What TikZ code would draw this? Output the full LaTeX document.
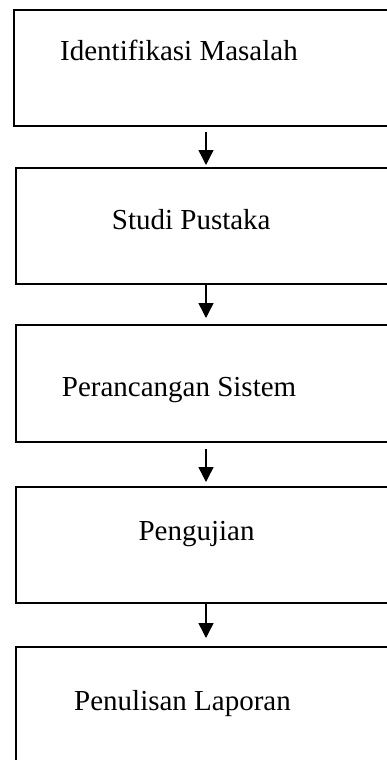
\documentclass[tikz,border=0pt]{standalone}
\usepackage{fontspec}
\setmainfont{Liberation Serif}
\usetikzlibrary{arrows.meta,calc}
\begin{document}
\begin{tikzpicture}[x=1pt,y=-1pt,
  box/.style={draw=black,line width=1.3pt,rectangle,inner sep=0pt,outer sep=0pt,minimum width=390pt,anchor=north west},
  lbl/.style={anchor=base west,inner sep=0pt,font=\fontsize{29}{34}\selectfont},
  arr/.style={draw=black,line width=1.4pt,-{Triangle[width=15pt,length=15pt]}}]
\useasboundingbox (0,0) rectangle (387,760);
\clip (0,0) rectangle (387,760);
\fill[white] (0,0) rectangle (387,760);
\coordinate (ax) at (206,0);
\node[box,minimum height=116pt] (b1) at (14,10) {};
\node[box,minimum height=116pt] (b2) at (16,168) {};
\node[box,minimum height=117pt] (b3) at (16,325) {};
\node[box,minimum height=116pt] (b4) at (16,487) {};
\node[box,minimum height=140pt] (b5) at (16,647) {};
\node[lbl] (t1) at (60,61) {Identifikasi Masalah};
\node[lbl] (t2) at (111.7,229.5) {Studi Pustaka};
\node[lbl] (t3) at (61.7,396) {Perancangan Sistem};
\node[lbl] (t4) at (138.3,540) {Pengujian};
\node[lbl] (t5) at (74,710) {Penulisan Laporan};
\draw[arr] ($(b1.south west -| ax)+(0,6)$) -- ($(b2.north west -| ax)+(0,-3)$);
\draw[arr] (b2.south west -| ax) -- ($(b3.north west -| ax)+(0,-7)$);
\draw[arr] ($(b3.south west -| ax)+(0,7)$) -- ($(b4.north west -| ax)+(0,-5)$);
\draw[arr] (b4.south west -| ax) -- ($(b5.north west -| ax)+(0,-9)$);
\end{tikzpicture}
\end{document}
